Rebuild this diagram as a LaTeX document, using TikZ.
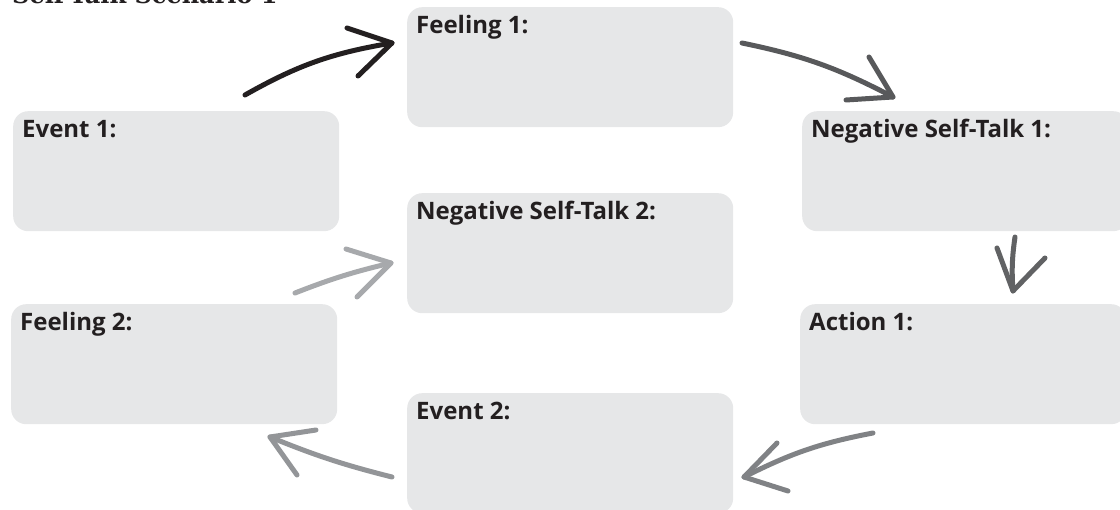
\documentclass[tikz,border=0pt]{standalone}
\usepackage{fontspec}
\setmainfont{Open Sans}
\newfontfamily\titlefont{DejaVu Serif}
\definecolor{cardgray}{HTML}{E6E7E8}
\definecolor{inkdark}{HTML}{231F20}
\definecolor{loopA}{HTML}{231F20}
\definecolor{loopB}{HTML}{58595B}
\definecolor{loopC}{HTML}{616264}
\definecolor{loopD}{HTML}{808285}
\definecolor{loopE}{HTML}{939598}
\definecolor{loopF}{HTML}{A7A9AC}
\tikzset{
  card/.style = {fill = cardgray, rounded corners = 15pt, anchor = north west,
                 minimum width = 326pt, minimum height = 120pt, inner sep = 0pt},
  cardtext/.style = {anchor = base west, inner sep = 0pt, xshift = 9pt, yshift = -27pt,
                     text = inkdark, font = \fontsize{24}{24}\selectfont\bfseries},
  loopline/.style = {line width = 5pt, line cap = round, line join = round},
}
\begin{document}
\begin{tikzpicture}[x = 1pt, y = -1pt]
  \useasboundingbox (0, 0) rectangle (1120, 510);
  \clip (0, 0) rectangle (1120, 510);
  % title, cut off at the top edge
  \node[anchor = base west, inner sep = 0pt, text = inkdark,
        font = \titlefont\fontsize{24}{24}\selectfont\bfseries] (title) at (12, 4) {Self-Talk Scenario 1};
  % cards
  \node[card, label = {[cardtext]north west:Feeling 1:}]            (feel1) at (407, 7)   {};
  \node[card, label = {[cardtext]north west:Event 1:}]              (ev1)   at (13, 111)  {};
  \node[card, label = {[cardtext]north west:Negative Self-Talk 1:}] (neg1)  at (802, 111) {};
  \node[card, label = {[cardtext]north west:Negative Self-Talk 2:}] (neg2)  at (407, 193) {};
  \node[card, label = {[cardtext]north west:Feeling 2:}]            (feel2) at (11, 304)  {};
  \node[card, label = {[cardtext]north west:Action 1:}]             (act1)  at (800, 304) {};
  \node[card, label = {[cardtext]north west:Event 2:}]              (ev2)   at (407, 393) {};
  % arrow ends
  \coordinate (s1) at (245, 95);   \coordinate (t1) at (392, 43);
  \coordinate (s2) at (742, 43);   \coordinate (t2) at (893, 97);
  \coordinate (s3) at (1015, 237); \coordinate (t3) at (1013, 291);
  \coordinate (s4) at (873, 433);  \coordinate (t4) at (744, 477);
  \coordinate (s5) at (392, 477);  \coordinate (t5) at (270, 437);
  \coordinate (s6) at (295, 293);  \coordinate (t6) at (391, 263);
  % hand drawn arrows
  \draw[loopline, loopA] (s1) to[bend left = 10] (t1);
  \draw[loopline, loopA] (347, 28) -- (t1) -- (358, 76);
  \draw[loopline, loopB] (s2) to[bend left = 8] (t2);
  \draw[loopline, loopB] (869, 57) -- (t2) -- (846, 100);
  \draw[loopline, loopC] (s3) to[bend right = 6] (t3);
  \draw[loopline, loopC] (997, 248) -- (t3) -- (1045, 258);
  \draw[loopline, loopD] (s4) to[bend right = 8] (t4);
  \draw[loopline, loopD] (777, 443) -- (t4) -- (788, 491);
  \draw[loopline, loopE] (s5) to[bend left = 4] (t5);
  \draw[loopline, loopE] (316, 430) -- (t5) -- (297, 475);
  \draw[loopline, loopF] (s6) to[bend left = 4] (t6);
  \draw[loopline, loopF] (346, 249) -- (t6) -- (357, 297);
\end{tikzpicture}
\end{document}
